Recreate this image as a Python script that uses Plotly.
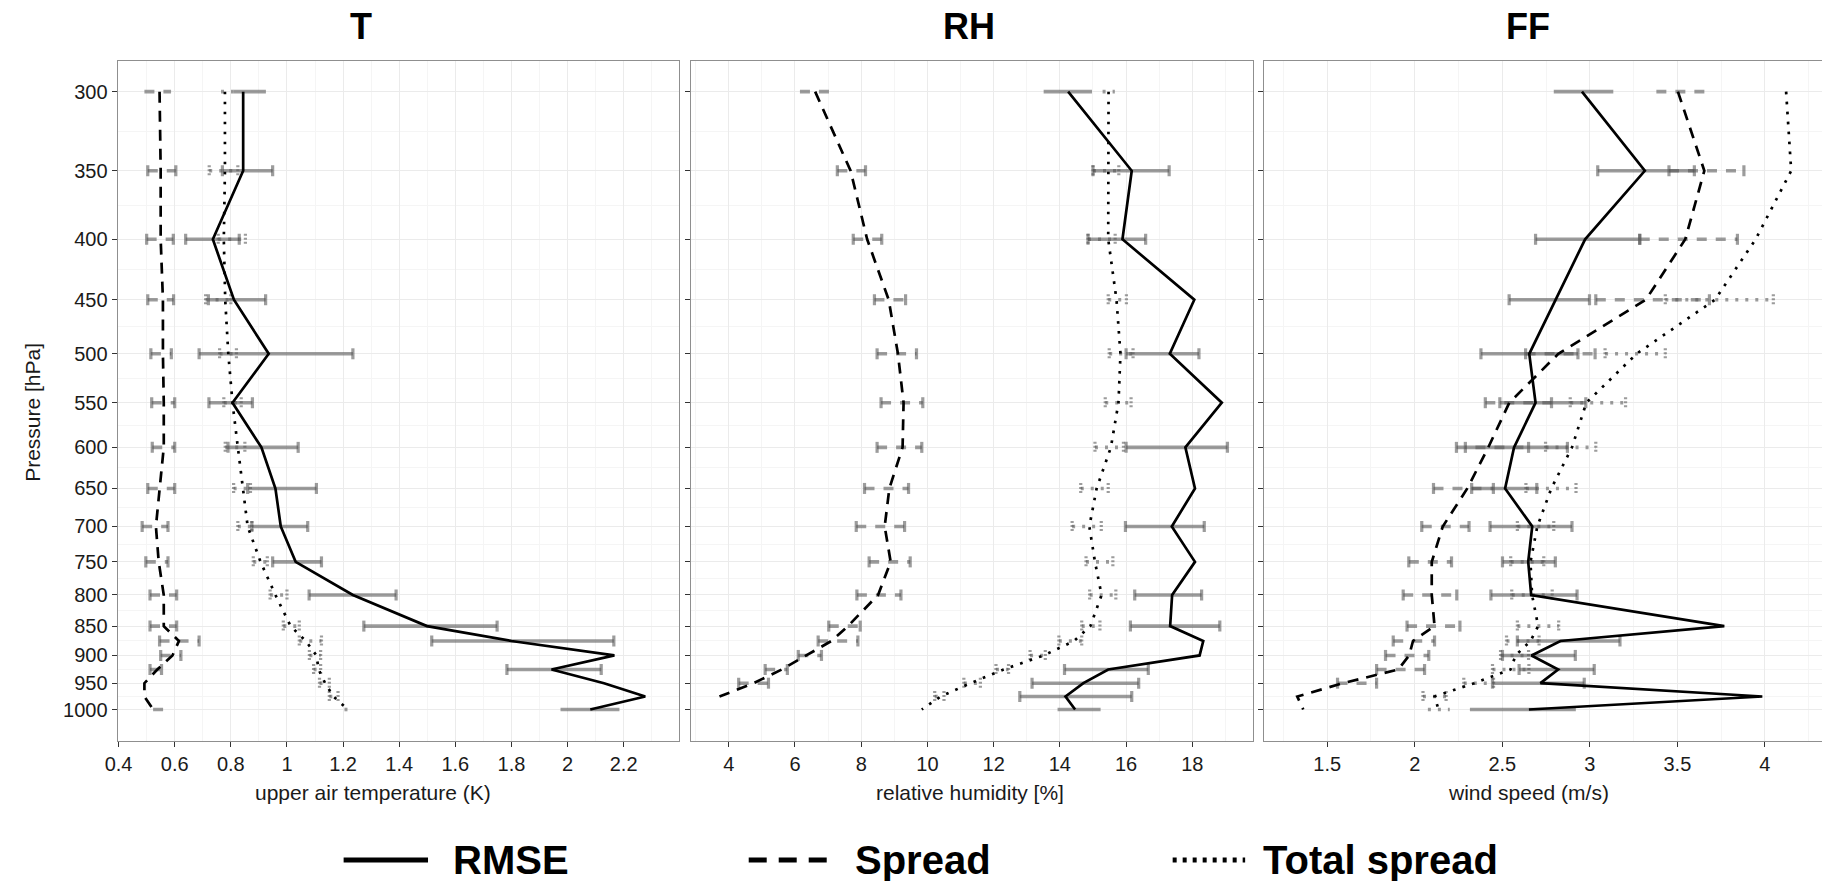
import math
import plotly.graph_objects as go

# ---------------- data ----------------
levels = [300, 350, 400, 450, 500, 550, 600, 650, 700, 750, 800, 850, 875, 900, 925, 950, 975, 1000]
tick_levels = [300, 350, 400, 450, 500, 550, 600, 650, 700, 750, 800, 850, 900, 950, 1000]

# T (upper air temperature, K)
t_rmse = [0.844, 0.844, 0.736, 0.811, 0.935, 0.806, 0.909, 0.959, 0.978, 1.031, 1.235, 1.499, 1.80, 2.167, 1.943, 2.13, 2.277, 2.081]
t_rmse_lo = [0.81, 0.77, 0.639, 0.72, 0.687, 0.722, 0.79, 0.86, 0.875, 0.949, 1.079, 1.274, 1.516, None, 1.784, None, None, 1.975]
t_rmse_hi = [0.925, 0.949, 0.83, 0.924, 1.235, 0.877, 1.04, 1.105, 1.074, 1.123, 1.389, 1.749, 2.165, None, 2.12, None, None, 2.185]
t_spread = [0.546, 0.550, 0.550, 0.558, 0.558, 0.561, 0.561, 0.546, 0.533, 0.543, 0.561, 0.561, 0.615, 0.592, 0.538, 0.492, 0.492, 0.523]
t_spread_lo = [0.492, 0.504, 0.50, 0.504, 0.515, 0.518, 0.52, 0.504, 0.484, 0.497, 0.512, 0.512, 0.546, 0.55, 0.512, None, None, 0.523]
t_spread_hi = [0.587, 0.604, 0.595, 0.596, 0.588, 0.60, 0.60, 0.60, 0.576, 0.576, 0.607, 0.607, 0.687, 0.622, 0.553, None, None, 0.561]
t_total = [0.779, 0.779, 0.775, 0.78, 0.791, 0.806, 0.825, 0.844, 0.86, 0.906, 0.959, 1.013, 1.067, 1.105, 1.113, 1.136, 1.166, 1.217]
t_total_lo = [0.765, 0.723, 0.755, 0.71, 0.76, 0.775, 0.78, 0.81, 0.825, 0.88, 0.94, 0.987, 1.044, 1.08, 1.095, 1.116, 1.151, 1.205]
t_total_hi = [0.81, 0.825, 0.852, 0.80, 0.82, 0.837, 0.85, 0.87, 0.875, 0.93, 1.0, 1.044, 1.123, 1.12, 1.12, 1.151, 1.182, 1.23]

# RH (relative humidity, %)
rh_rmse = [14.25, 16.17, 15.89, 18.06, 17.32, 18.89, 17.79, 18.08, 17.38, 18.08, 17.39, 17.33, 18.33, 18.22, 15.46, 14.71, 14.17, 14.46]
rh_rmse_lo = [13.51, 15.0, 14.85, None, 16.0, None, 16.0, None, 15.98, None, 16.26, 16.13, None, None, 14.14, 13.16, 12.79, 13.93]
rh_rmse_hi = [14.97, 17.3, 16.59, None, 18.2, None, 19.06, None, 18.36, None, 18.28, 18.83, None, None, 16.67, 16.38, 16.17, 15.23]
rh_spread = [6.61, 7.68, 8.18, 8.83, 9.11, 9.28, 9.25, 8.85, 8.71, 8.89, 8.51, 7.6, 7.1, 6.35, 5.6, 4.75, 3.72, None]
rh_spread_lo = [6.15, 7.28, 7.76, 8.4, 8.48, 8.6, 8.48, 8.1, 7.85, 8.24, 7.87, 7.02, 6.7, 6.1, 5.1, 4.3, None, None]
rh_spread_hi = [7.07, 8.13, 8.62, 9.34, 9.67, 9.86, 9.83, 9.43, 9.31, 9.48, 9.2, 7.97, 7.9, 6.8, 5.77, 5.2, None, None]
rh_total = [15.47, 15.47, 15.46, 15.71, 15.83, 15.77, 15.54, 15.11, 14.89, 15.06, 15.26, 14.92, 14.43, 13.51, 12.3, 11.3, 10.4, 9.83]
rh_total_lo = [15.29, 15.0, 14.85, 15.46, 15.49, 15.37, 15.06, 14.63, 14.37, 14.79, 14.9, 14.66, 13.97, 13.1, 12.07, 11.1, 10.22, None]
rh_total_hi = [15.66, 15.78, 15.67, 16.01, 16.21, 16.15, 15.92, 15.46, 15.25, 15.6, 15.69, 15.21, 14.66, 13.56, 12.45, 11.6, 10.5, None]

# FF (wind speed, m/s)
ff_rmse = [2.955, 3.314, 2.973, 2.804, 2.654, 2.69, 2.567, 2.516, 2.671, 2.648, 2.665, 3.768, 2.832, 2.667, 2.819, 2.718, 3.985, 2.652]
ff_rmse_lo = [2.794, 3.045, 2.69, 2.539, 2.378, 2.486, 2.289, 2.325, 2.43, 2.501, 2.435, None, 2.586, 2.501, 2.596, 2.444, None, 2.315]
ff_rmse_hi = [3.134, 3.597, 3.285, 2.998, 2.932, 2.977, 2.872, 2.697, 2.898, 2.803, 2.927, None, 3.172, 2.917, 3.025, 2.968, None, 2.92]
ff_spread = [3.503, 3.654, 3.545, 3.32, 2.82, 2.54, 2.42, 2.30, 2.16, 2.097, 2.097, 2.113, 1.99, 1.968, 1.906, 1.59, 1.329, 1.363]
ff_spread_lo = [3.38, 3.452, 3.285, 3.034, 2.633, 2.403, 2.238, 2.107, 2.04, 1.966, 1.934, 1.956, 1.877, 1.833, 1.782, 1.559, None, None]
ff_spread_hi = [3.68, 3.88, 3.843, 3.683, 3.03, 2.781, 2.65, 2.449, 2.31, 2.21, 2.24, 2.258, 2.113, 2.08, 2.056, 1.782, None, None]
ff_total = [4.121, 4.15, 3.947, 3.715, 3.267, 2.98, 2.898, 2.78, 2.70, 2.661, 2.67, 2.705, 2.661, 2.576, 2.547, 2.34, 2.113, 2.136]
ff_total_lo = [None, None, None, 3.431, 3.087, 2.888, 2.747, 2.635, 2.586, 2.548, 2.554, 2.586, 2.524, 2.49, 2.444, 2.28, 2.047, 2.075]
ff_total_hi = [None, None, None, 4.048, 3.431, 3.204, 3.034, 2.921, 2.794, 2.737, 2.785, 2.822, 2.71, 2.65, 2.652, 2.45, 2.179, 2.2]

panel_titles = ["T", "RH", "FF"]
x_titles = ["upper air temperature (K)", "relative humidity [%]", "wind speed (m/s)"]
y_title = "Pressure [hPa]"
legend_names = ["RMSE", "Spread", "Total spread"]

x_ticks = [
    [0.4, 0.6, 0.8, 1.0, 1.2, 1.4, 1.6, 1.8, 2.0, 2.2],
    [4, 6, 8, 10, 12, 14, 16, 18],
    [1.5, 2.0, 2.5, 3.0, 3.5, 4.0],
]
x_ticktext = [
    ["0.4", "0.6", "0.8", "1", "1.2", "1.4", "1.6", "1.8", "2", "2.2"],
    ["4", "6", "8", "10", "12", "14", "16", "18"],
    ["1.5", "2", "2.5", "3", "3.5", "4"],
]
x_minor = [
    [0.5, 0.7, 0.9, 1.1, 1.3, 1.5, 1.7, 1.9, 2.1, 2.3],
    [3, 5, 7, 9, 11, 13, 15, 17, 19],
    [1.25, 1.75, 2.25, 2.75, 3.25, 3.75, 4.25],
]

# ---------------- style ----------------
W, H = 1822, 881
TOP, BOTTOM = 61, 741
FONT = "Liberation Sans, Arial, sans-serif"
BAR_COL = "rgba(85,85,85,0.58)"
GRID = "#ebebeb"
GRID_MINOR = "#f5f5f5"
BORDER = "#8f8f8f"

x_domains = [(105.5 / W, 671.0 / W), (682.6 / W, 1249.0 / W), (1260.0 / W, 1.0)]
x_ranges = [(0.397, 2.398), (2.852, 19.835), (1.139, 4.326)]
y_range = [math.log10(1063.3), math.log10(282.6)]
CAP = math.exp(5.5 / 513.0)

fig = go.Figure()


def add_bars(k, lo, hi, dash, cap_dash):
    xr = "x" if k == 0 else f"x{k + 1}"
    yr = "y" if k == 0 else f"y{k + 1}"
    bx, by, cx, cy = [], [], [], []
    for p, a, b in zip(levels, lo, hi):
        if a is None or b is None:
            continue
        bx += [a, b, None]
        by += [p, p, None]
        if p not in (levels[0], levels[-1]):
            for v in (a, b):
                cx += [v, v, None]
                cy += [p / CAP, p * CAP, None]
    fig.add_trace(go.Scatter(x=bx, y=by, mode="lines", xaxis=xr, yaxis=yr, showlegend=False,
                             hoverinfo="skip", line=dict(color=BAR_COL, width=3.6, dash=dash)))
    if cx:
        fig.add_trace(go.Scatter(x=cx, y=cy, mode="lines", xaxis=xr, yaxis=yr, showlegend=False,
                                 hoverinfo="skip", line=dict(color=BAR_COL, width=3.2, dash=cap_dash)))


def add_line(k, vals, dash, name):
    xr = "x" if k == 0 else f"x{k + 1}"
    yr = "y" if k == 0 else f"y{k + 1}"
    xs = [v for v in vals if v is not None]
    ys = [p for p, v in zip(levels, vals) if v is not None]
    fig.add_trace(go.Scatter(x=xs, y=ys, mode="lines", xaxis=xr, yaxis=yr, name=name, showlegend=False,
                             line=dict(color="black", width=2.7, dash=dash)))


panels = [
    (t_rmse, t_rmse_lo, t_rmse_hi, t_spread, t_spread_lo, t_spread_hi, t_total, t_total_lo, t_total_hi),
    (rh_rmse, rh_rmse_lo, rh_rmse_hi, rh_spread, rh_spread_lo, rh_spread_hi, rh_total, rh_total_lo, rh_total_hi),
    (ff_rmse, ff_rmse_lo, ff_rmse_hi, ff_spread, ff_spread_lo, ff_spread_hi, ff_total, ff_total_lo, ff_total_hi),
]

DASH = "11px,8px"
DOT = "2.7px,7.3px"
BAR_DASH = "10px,9px"
BAR_DOT = "3px,7px"

for k, (r, rlo, rhi, s, slo, shi, tt, tlo, thi) in enumerate(panels):
    add_bars(k, tlo, thi, BAR_DOT, "2px,2px")
    add_bars(k, slo, shi, BAR_DASH, "solid")
    add_bars(k, rlo, rhi, "solid", "solid")
    add_line(k, tt, DOT, legend_names[2])
    add_line(k, s, DASH, legend_names[1])
    add_line(k, r, "solid", legend_names[0])

minor_y = [math.sqrt(a * b) for a, b in zip(tick_levels[:-1], tick_levels[1:])]

layout = dict(
    width=W, height=H,
    margin=dict(l=0, r=0, t=TOP, b=H - BOTTOM, pad=0),
    paper_bgcolor="white", plot_bgcolor="white",
    font=dict(family=FONT, color="#1a1a1a"),
    showlegend=False,
)

for k in range(3):
    xa = dict(
        domain=list(x_domains[k]), range=list(x_ranges[k]),
        tickmode="array", tickvals=x_ticks[k], ticktext=x_ticktext[k],
        showgrid=True, gridcolor=GRID, gridwidth=1.3,
        minor=dict(tickmode="array", tickvals=x_minor[k], showgrid=True, gridcolor=GRID_MINOR, gridwidth=1, ticks=""),
        showline=True, linecolor=BORDER, linewidth=1.3, mirror=True,
        ticks="outside", ticklen=5, tickwidth=1.2, tickcolor="#333333",
        tickfont=dict(family=FONT, size=20, color="#1a1a1a"),
        zeroline=False, anchor="y" if k == 0 else f"y{k + 1}",
    )
    ya = dict(
        type="log", range=y_range, domain=[0, 1],
        tickmode="array", tickvals=tick_levels, ticktext=[str(v) for v in tick_levels],
        showticklabels=(k == 0),
        showgrid=True, gridcolor=GRID, gridwidth=1.3,
        minor=dict(tickmode="array", tickvals=minor_y, showgrid=True, gridcolor=GRID_MINOR, gridwidth=1, ticks=""),
        showline=True, linecolor=BORDER, linewidth=1.3, mirror=(k < 2),
        ticks="outside", ticklen=5, tickwidth=1.2, tickcolor="#333333",
        tickfont=dict(family=FONT, size=20, color="#1a1a1a"),
        zeroline=False, anchor="x" if k == 0 else f"x{k + 1}",
    )
    layout["xaxis" if k == 0 else f"xaxis{k + 1}"] = xa
    layout["yaxis" if k == 0 else f"yaxis{k + 1}"] = ya

fig.update_layout(**layout)

PH = BOTTOM - TOP


def py(y_px):
    return (BOTTOM - y_px) / PH


title_x = [351, 963, 1526]
axis_title_x = [363, 964, 1526]
for k in range(3):
    fig.add_annotation(text=f"<b>{panel_titles[k]}</b>", x=title_x[k] / W, y=py(27), xref="paper", yref="paper",
                       showarrow=False, xanchor="center", yanchor="middle",
                       font=dict(family=FONT, size=36, color="black"))
    fig.add_annotation(text=x_titles[k], x=axis_title_x[k] / W, y=py(792), xref="paper", yref="paper",
                       showarrow=False, xanchor="center", yanchor="middle",
                       font=dict(family=FONT, size=21, color="#1a1a1a"))

fig.add_annotation(text=y_title, x=20 / W, y=py(412), xref="paper", yref="paper", textangle=-90,
                   showarrow=False, xanchor="center", yanchor="middle",
                   font=dict(family=FONT, size=21, color="#1a1a1a"))

# legend (drawn manually below the panels)
leg_y = py(860)
leg_items = [
    (333, 418, "solid", 5, 441),
    (741, 827, "18px,12px", 5, 846),
    (1168, 1241, "4px,6px", 5, 1257),
]
for (x0, x1, dash, w, tx), name in zip(leg_items, legend_names):
    fig.add_shape(type="line", xref="paper", yref="paper", x0=x0 / W, x1=x1 / W, y0=leg_y, y1=leg_y,
                  line=dict(color="black", width=w, dash=dash))
    fig.add_annotation(text=f"<b>{name}</b>", x=tx / W, y=leg_y, xref="paper", yref="paper",
                       showarrow=False, xanchor="left", yanchor="middle",
                       font=dict(family=FONT, size=40, color="black"))

fig.write_html("out.html")
